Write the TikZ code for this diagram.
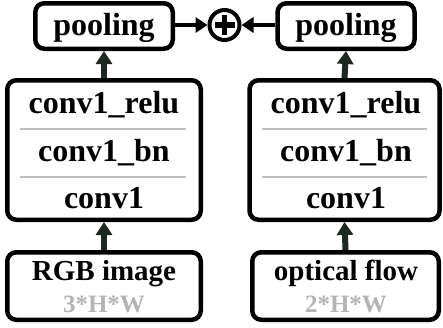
\documentclass[tikz,border=0pt]{standalone}
\usepackage{fontspec}
\setmainfont{Liberation Serif}[BoldFont={Liberation Serif Bold}]
\usepackage{xcolor}
\usepackage{tikz}
\usetikzlibrary{positioning}
\usetikzlibrary{arrows, arrows.meta}
\definecolor{arrowc}{RGB}{28,40,32}
\definecolor{sepc}{RGB}{192,192,192}
\definecolor{dimc}{RGB}{180,180,180}

\begin{document}
\begin{tikzpicture}[x=1pt, y=-1pt,
  box/.style={draw, line width=4.5pt, rounded corners=9pt, inner sep=0pt},
  big/.style={font=\rmfamily\bfseries\fontsize{32}{36}\selectfont, anchor=base, inner sep=0pt},
  mid/.style={font=\rmfamily\bfseries\fontsize{29}{33}\selectfont, anchor=base, inner sep=0pt},
  dim/.style={font=\rmfamily\bfseries\fontsize{25}{28}\selectfont, text=dimc, anchor=base, inner sep=0pt},
  sep/.style={draw=sepc, line width=2.5pt},
  up/.style={draw=arrowc, line width=6pt, -{Triangle[width=16pt,length=13pt]}},
  fuse/.style={line width=4pt, -{Triangle[width=15pt,length=12pt]}}]
  \useasboundingbox (0,0) rectangle (443,327);

  \def\stackh{139.5pt}
  \def\inh{67.5pt}
  \def\poolh{45.5pt}

  % RGB branch
  \node[box, minimum width=193.5pt, minimum height=\inh] (in_rgb) at (104,286) {};
  \node[mid] (in_rgb_t) at (104,280) {RGB image};
  \node[dim] (in_rgb_d) at (104,312) {3*H*W};

  \node[box, minimum width=193.5pt, minimum height=\stackh] (stack_rgb) at (104,150) {};
  \node[big] (relu_rgb) at (104,113) {conv1\_relu};
  \node[big] (bn_rgb) at (104,161) {conv1\_bn};
  \node[big] (conv_rgb) at (104,208) {conv1};
  \draw[sep] (20,129) -- (186,129);
  \draw[sep] (20,177) -- (186,177);

  \node[box, minimum width=137.5pt, minimum height=\poolh] (pool_rgb) at (104,26) {};
  \node[big] (pool_rgb_t) at (104,35) {pooling};

  \draw[up] (in_rgb.north) -- (stack_rgb.south);
  \draw[up] (stack_rgb.north) -- (pool_rgb.south);

  % 2nd
  \node[box, minimum width=186.5pt, minimum height=\inh] (in_flow) at (345.5,286) {};
  \node[mid] (in_flow_t) at (346,280) {optical flow};
  \node[dim] (in_flow_d) at (346,312) {2*H*W};

  \node[box, minimum width=190pt, minimum height=\stackh] (stack_flow) at (344.5,150) {};
  \node[big] (relu_flow) at (346,113) {conv1\_relu};
  \node[big] (bn_flow) at (346,161) {conv1\_bn};
  \node[big] (conv_flow) at (346,208) {conv1};
  \draw[sep] (262,129) -- (427,129);
  \draw[sep] (262,177) -- (427,177);

  \node[box, minimum width=137pt, minimum height=\poolh] (pool_flow) at (346,26) {};
  \node[big] (pool_flow_t) at (346,35) {pooling};

  \draw[up] (in_flow.north) -- (stack_flow.south);
  \draw[up] (stack_flow.north) -- (pool_flow.south);

  % fusion
  \node[draw, circle, line width=4pt, minimum size=30pt, inner sep=0pt] (sum) at (224.5,25) {};
  \draw[line width=5.5pt] (sum.center) ++(-10,0) -- ++(20,0);
  \draw[line width=5.5pt] (sum.center) ++(0,-10) -- ++(0,20);

  \draw[fuse] (pool_rgb.east |- sum.west) -- (sum.west);
  \draw[fuse] (pool_flow.west |- sum.east) -- (sum.east);

\end{tikzpicture}
\end{document}
